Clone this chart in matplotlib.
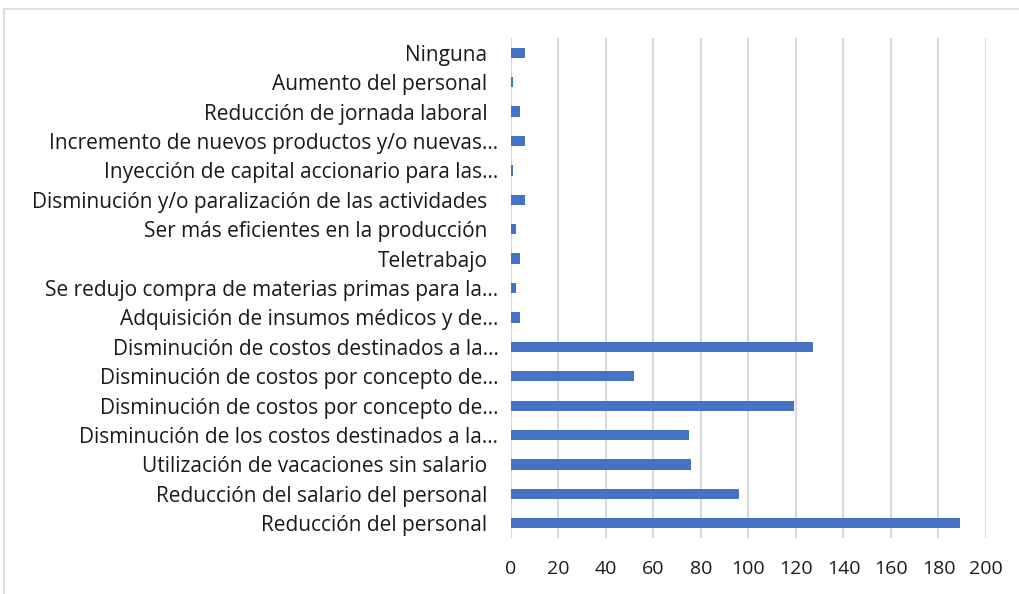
import matplotlib
matplotlib.use("Agg")
import matplotlib.pyplot as plt
from matplotlib.patches import Rectangle
from matplotlib.transforms import ScaledTranslation

categories = [
    "Reducción del personal",
    "Reducción del salario del personal",
    "Utilización de vacaciones sin salario",
    "Disminución de los costos destinados a la…",
    "Disminución de costos por concepto de…",
    "Disminución de costos por concepto de…",
    "Disminución de costos destinados a la…",
    "Adquisición de insumos médicos y de…",
    "Se redujo compra de materias primas para la…",
    "Teletrabajo",
    "Ser más eficientes en la producción",
    "Disminución y/o paralización de las actividades",
    "Inyección de capital accionario para las…",
    "Incremento de nuevos productos y/o nuevas…",
    "Reducción de jornada laboral",
    "Aumento del personal",
    "Ninguna",
]
values = [189, 96, 76, 75, 119, 52, 127, 4, 2, 4, 2, 6, 1, 6, 4, 1, 6]
xticks = [0, 20, 40, 60, 80, 100, 120, 140, 160, 180, 200]

plt.rcParams['font.family'] = ['Open Sans', 'DejaVu Sans']

W, H = 1020, 594
fig = plt.figure(figsize=(W / 100, H / 100), dpi=100)
ax = fig.add_axes([511 / W, 1 - 538 / H, (986 - 511) / W, (538 - 38) / H])

ypos = list(range(len(categories)))
ax.barh(ypos, values, height=0.35, color="#4472C4", zorder=3)
ax.set_yticks(ypos)
ax.set_yticklabels(categories, fontsize=15, color="#1a1a1a")
ax.set_ylim(-0.5, len(categories) - 0.5)
ax.set_xlim(0, 200)
ax.set_xticks(xticks)
ax.set_xticklabels([str(t) for t in xticks], fontsize=14, color="#1a1a1a")
ax.tick_params(axis='both', length=0)
ax.tick_params(axis='y', pad=17)
ax.tick_params(axis='x', pad=16)
ax.grid(axis='x', color="#d9d9d9", linewidth=1.5, zorder=0)
for s in ax.spines.values():
    s.set_visible(False)

# truncated labels (with ellipsis) sit a bit closer to the axis
shift = ScaledTranslation(11 / 100, 0, fig.dpi_scale_trans)
for lab in ax.get_yticklabels():
    if lab.get_text().endswith("…"):
        lab.set_transform(lab.get_transform() + shift)

# outer chart border (cropped)
fig.patches.append(Rectangle((4 / W, -0.1), 1.2, 1 - 9 / H + 0.1,
                             transform=fig.transFigure, fill=False,
                             edgecolor="#d9d9d9", linewidth=1.2))

fig.savefig("out.png", dpi=100)
